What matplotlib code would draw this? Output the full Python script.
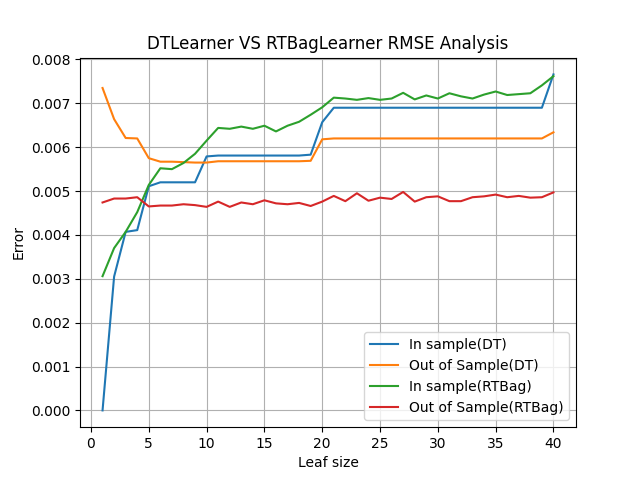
import matplotlib
matplotlib.use("Agg")
import matplotlib.pyplot as plt
import numpy as np

leaf_sizes = np.arange(1, 41)

# RMSE values
in_sample_dt = [
    0.0, 3.05, 4.07, 4.11, 5.11, 5.20, 5.20, 5.20, 5.20, 5.79,
    5.81, 5.81, 5.81, 5.81, 5.81, 5.81, 5.81, 5.81, 5.83, 6.57,
    6.90, 6.90, 6.90, 6.90, 6.90, 6.90, 6.90, 6.90, 6.90, 6.90,
    6.90, 6.90, 6.90, 6.90, 6.90, 6.90, 6.90, 6.90, 6.90, 7.66,
]
out_sample_dt = [
    7.35, 6.64, 6.21, 6.20, 5.75, 5.67, 5.67, 5.66, 5.65, 5.65,
    5.68, 5.68, 5.68, 5.68, 5.68, 5.68, 5.68, 5.68, 5.69, 6.18,
    6.20, 6.20, 6.20, 6.20, 6.20, 6.20, 6.20, 6.20, 6.20, 6.20,
    6.20, 6.20, 6.20, 6.20, 6.20, 6.20, 6.20, 6.20, 6.20, 6.34,
]
in_sample_bag = [
    3.06, 3.70, 4.07, 4.52, 5.14, 5.52, 5.50, 5.64, 5.85, 6.15,
    6.44, 6.42, 6.47, 6.42, 6.49, 6.36, 6.49, 6.58, 6.74, 6.91,
    7.13, 7.11, 7.08, 7.12, 7.08, 7.11, 7.24, 7.09, 7.18, 7.11,
    7.23, 7.16, 7.11, 7.20, 7.27, 7.19, 7.21, 7.23, 7.41, 7.62,
]
out_sample_bag = [
    4.74, 4.83, 4.83, 4.86, 4.65, 4.67, 4.67, 4.70, 4.68, 4.64,
    4.76, 4.64, 4.74, 4.70, 4.79, 4.72, 4.70, 4.73, 4.66, 4.76,
    4.89, 4.77, 4.95, 4.78, 4.85, 4.82, 4.98, 4.76, 4.86, 4.88,
    4.77, 4.77, 4.86, 4.88, 4.92, 4.86, 4.89, 4.85, 4.86, 4.97,
]

fig, ax = plt.subplots(figsize=(6.4, 4.8), dpi=100)

ax.plot(leaf_sizes, np.array(in_sample_dt) / 1000, label="In sample(DT)")
ax.plot(leaf_sizes, np.array(out_sample_dt) / 1000, label="Out of Sample(DT)")
ax.plot(leaf_sizes, np.array(in_sample_bag) / 1000, label="In sample(RTBag)")
ax.plot(leaf_sizes, np.array(out_sample_bag) / 1000, label="Out of Sample(RTBag)")

ax.set_title("DTLearner VS RTBagLearner RMSE Analysis")
ax.set_xlabel("Leaf size")
ax.set_ylabel("Error")
ax.legend(loc="lower right")
ax.grid(True)

fig.savefig("out.png", dpi=100)
